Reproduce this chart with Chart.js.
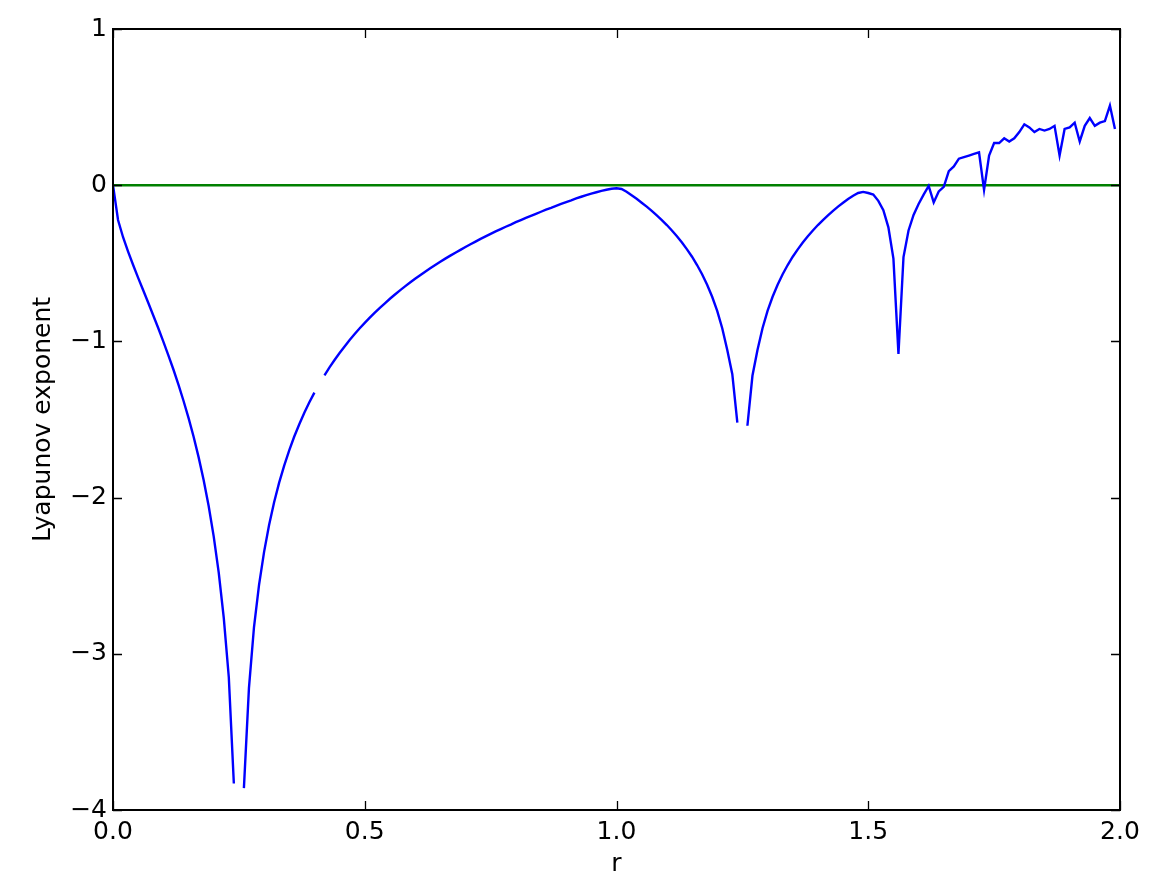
<!DOCTYPE html>
<html lang="en">
<head>
  <meta charset="UTF-8" />
  <title>Lyapunov exponent</title>
  <script src="https://cdn.jsdelivr.net/npm/chart.js"></script>
  <style>
    body {
      margin: 0;
      padding: 0;
      background: #fff;
    }
    canvas {
      display: block;
    }
  </style>
</head>
<body>

  <canvas id="lyapChart" width="1163" height="891"></canvas>

  <script>
    // r values, step 0.01
    const rValues = [
      0.00, 0.01, 0.02, 0.03, 0.04, 0.05, 0.06, 0.07, 0.08, 0.09,
      0.10, 0.11, 0.12, 0.13, 0.14, 0.15, 0.16, 0.17, 0.18, 0.19,
      0.20, 0.21, 0.22, 0.23, 0.24, 0.25, 0.26, 0.27, 0.28, 0.29,
      0.30, 0.31, 0.32, 0.33, 0.34, 0.35, 0.36, 0.37, 0.38, 0.39,
      0.40, 0.41, 0.42, 0.43, 0.44, 0.45, 0.46, 0.47, 0.48, 0.49,
      0.50, 0.51, 0.52, 0.53, 0.54, 0.55, 0.56, 0.57, 0.58, 0.59,
      0.60, 0.61, 0.62, 0.63, 0.64, 0.65, 0.66, 0.67, 0.68, 0.69,
      0.70, 0.71, 0.72, 0.73, 0.74, 0.75, 0.76, 0.77, 0.78, 0.79,
      0.80, 0.81, 0.82, 0.83, 0.84, 0.85, 0.86, 0.87, 0.88, 0.89,
      0.90, 0.91, 0.92, 0.93, 0.94, 0.95, 0.96, 0.97, 0.98, 0.99,
      1.00, 1.01, 1.02, 1.03, 1.04, 1.05, 1.06, 1.07, 1.08, 1.09,
      1.10, 1.11, 1.12, 1.13, 1.14, 1.15, 1.16, 1.17, 1.18, 1.19,
      1.20, 1.21, 1.22, 1.23, 1.24, 1.25, 1.26, 1.27, 1.28, 1.29,
      1.30, 1.31, 1.32, 1.33, 1.34, 1.35, 1.36, 1.37, 1.38, 1.39,
      1.40, 1.41, 1.42, 1.43, 1.44, 1.45, 1.46, 1.47, 1.48, 1.49,
      1.50, 1.51, 1.52, 1.53, 1.54, 1.55, 1.56, 1.57, 1.58, 1.59,
      1.60, 1.61, 1.62, 1.63, 1.64, 1.65, 1.66, 1.67, 1.68, 1.69,
      1.70, 1.71, 1.72, 1.73, 1.74, 1.75, 1.76, 1.77, 1.78, 1.79,
      1.80, 1.81, 1.82, 1.83, 1.84, 1.85, 1.86, 1.87, 1.88, 1.89,
      1.90, 1.91, 1.92, 1.93, 1.94, 1.95, 1.96, 1.97, 1.98, 1.99
    ];

    // exponent, null where the curve is broken
    const lyapunov = [
      0, -0.223, -0.333, -0.425, -0.511, -0.593, -0.673, -0.753, -0.834, -0.916,
      -1.001, -1.089, -1.180, -1.277, -1.380, -1.490, -1.609, -1.741, -1.887, -2.054,
      -2.248, -2.48, -2.77, -3.15, -3.83, null, -3.86, -3.22, -2.83, -2.56,
      -2.349, -2.175, -2.030, -1.904, -1.795, -1.697, -1.609, -1.530, -1.457, -1.390,
      -1.328, null, -1.217, -1.166, -1.119, -1.074, -1.032, -0.991, -0.953, -0.916,
      -0.881, -0.848, -0.816, -0.785, -0.756, -0.727, -0.700, -0.673, -0.648, -0.623,
      -0.599, -0.576, -0.554, -0.532, -0.511, -0.490, -0.470, -0.451, -0.432, -0.414,
      -0.396, -0.378, -0.361, -0.344, -0.328, -0.312, -0.296, -0.281, -0.266, -0.252,
      -0.237, -0.223, -0.209, -0.196, -0.183, -0.170, -0.157, -0.145, -0.132, -0.120,
      -0.108, -0.097, -0.085, -0.074, -0.064, -0.054, -0.045, -0.036, -0.029, -0.023,
      -0.020, -0.024, -0.042, -0.064, -0.087, -0.112, -0.137, -0.164, -0.193, -0.223,
      -0.255, -0.290, -0.327, -0.367, -0.411, -0.458, -0.511, -0.570, -0.637, -0.714,
      -0.805, -0.916, -1.055, -1.21, -1.52, null, -1.54, -1.22, -1.055, -0.916,
      -0.805, -0.714, -0.637, -0.570, -0.511, -0.458, -0.411, -0.367, -0.327, -0.290,
      -0.255, -0.223, -0.193, -0.164, -0.137, -0.112, -0.088, -0.067, -0.050, -0.043,
      -0.05, -0.06, -0.10, -0.16, -0.27, -0.47, -1.08, -0.46, -0.29, -0.19,
      -0.12, -0.06, -0.005, -0.11, -0.04, -0.01, 0.09, 0.12, 0.17, 0.18,
      0.19, 0.20, 0.21, -0.03, 0.19, 0.27, 0.27, 0.30, 0.28, 0.30,
      0.34, 0.39, 0.37, 0.34, 0.36, 0.35, 0.36, 0.38, 0.19, 0.36,
      0.37, 0.40, 0.28, 0.38, 0.43, 0.38, 0.40, 0.41, 0.51, 0.36
    ];

    // zero reference line
    const zeroLineR = [0, 2];
    const zeroLineY = [0, 0];

    const xTicks = [0, 0.5, 1.0, 1.5, 2.0];
    const yTicks = [1, 0, -1, -2, -3, -4];

    const FONT = 'DejaVu Sans';

    // matplotlib style frame with ticks pointing inwards on all sides
    const framePlugin = {
      id: 'frame',
      afterDraw(chart) {
        const { ctx, chartArea: a, scales } = chart;
        const len = 9;
        ctx.save();
        ctx.strokeStyle = '#000';
        ctx.lineWidth = 1.3;
        xTicks.forEach(v => {
          const px = Math.round(scales.x.getPixelForValue(v)) + 0.5;
          ctx.beginPath();
          ctx.moveTo(px, a.bottom); ctx.lineTo(px, a.bottom - len);
          ctx.moveTo(px, a.top); ctx.lineTo(px, a.top + len);
          ctx.stroke();
        });
        yTicks.forEach(v => {
          const py = Math.round(scales.y.getPixelForValue(v)) + 0.5;
          ctx.beginPath();
          ctx.moveTo(a.left, py); ctx.lineTo(a.left + len, py);
          ctx.moveTo(a.right, py); ctx.lineTo(a.right - len, py);
          ctx.stroke();
        });
        ctx.lineWidth = 2;
        ctx.strokeRect(a.left, a.top, a.right - a.left, a.bottom - a.top);
        ctx.restore();
      }
    };

    new Chart(document.getElementById('lyapChart').getContext('2d'), {
      type: 'line',
      data: {
        datasets: [
          {
            label: 'lyapunov',
            data: rValues.map((r, i) => ({ x: r, y: lyapunov[i] })),
            borderColor: '#0000ff',
            borderWidth: 2.4,
            pointRadius: 0,
            tension: 0,
            spanGaps: false
          },
          {
            label: 'zero',
            data: zeroLineR.map((r, i) => ({ x: r, y: zeroLineY[i] })),
            borderColor: '#008000',
            borderWidth: 2.4,
            pointRadius: 0
          }
        ]
      },
      options: {
        responsive: false,
        animation: false,
        layout: { padding: { top: 29, right: 43, left: 0, bottom: 0 } },
        plugins: {
          legend: { display: false },
          tooltip: { enabled: false }
        },
        scales: {
          x: {
            type: 'linear',
            min: 0,
            max: 2,
            afterBuildTicks: s => { s.ticks = xTicks.map(v => ({ value: v })); },
            afterFit: s => { s.height = 81; },
            ticks: {
              padding: 7,
              color: '#000',
              font: { family: FONT, size: 25 },
              callback: v => v.toFixed(1)
            },
            grid: { display: false, drawTicks: false },
            border: { display: false },
            title: {
              display: true,
              text: 'r',
              color: '#000',
              font: { family: FONT, size: 25 },
              padding: { top: 0, bottom: 12 }
            }
          },
          y: {
            type: 'linear',
            min: -4,
            max: 1,
            afterBuildTicks: s => { s.ticks = yTicks.map(v => ({ value: v })); },
            afterFit: s => { s.width = 113; },
            ticks: {
              padding: 6,
              color: '#000',
              font: { family: FONT, size: 25 },
              callback: v => (v < 0 ? '\u2212' + Math.abs(v) : String(v))
            },
            grid: { display: false, drawTicks: false },
            border: { display: false },
            title: {
              display: true,
              text: 'Lyapunov exponent',
              color: '#000',
              font: { family: FONT, size: 25 },
              padding: { top: 28, bottom: 0 }
            }
          }
        }
      },
      plugins: [framePlugin]
    });
  </script>

</body>
</html>
